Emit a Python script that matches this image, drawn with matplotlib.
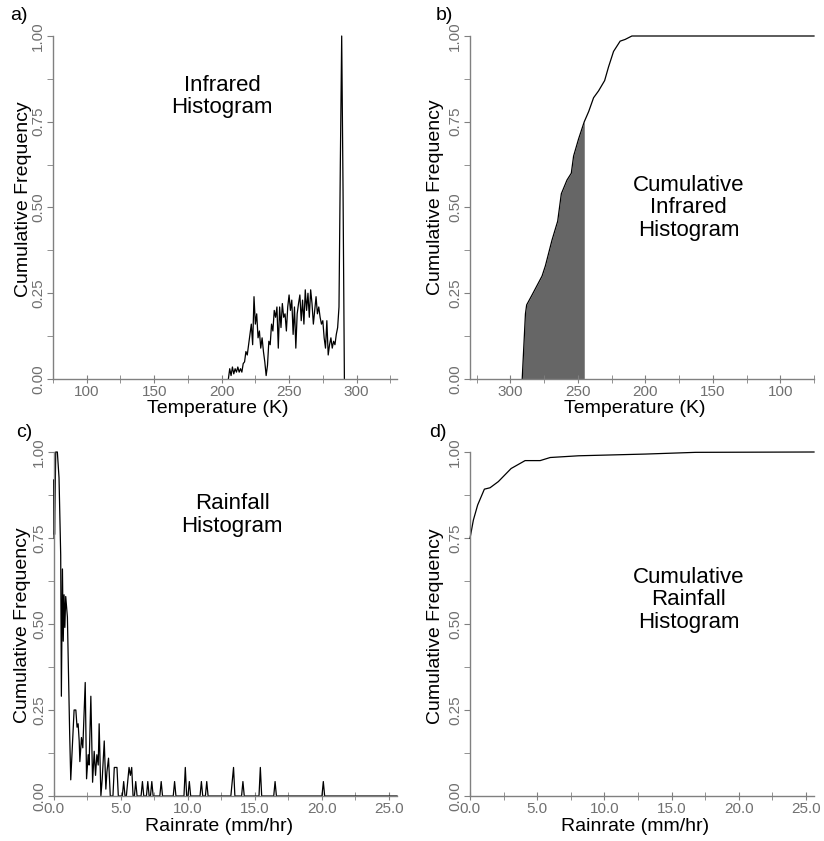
import numpy as np
import matplotlib
matplotlib.use("Agg")
import matplotlib.pyplot as plt
from matplotlib.ticker import MultipleLocator, FormatStrFormatter

plt.rcParams['font.family'] = ['Liberation Sans', 'DejaVu Sans']

# ---------------- data ----------------
# a) Infrared histogram (1 K bins)
ir_temp = np.arange(205, 292)
ir_freq = [0.00, 0.03, 0.01, 0.035, 0.015, 0.03, 0.02, 0.035, 0.02, 0.03,
           0.02, 0.045, 0.05, 0.08, 0.07, 0.10, 0.13, 0.16, 0.10, 0.24,
           0.16, 0.19, 0.12, 0.14, 0.09, 0.12, 0.08, 0.05, 0.01, 0.04,
           0.11, 0.10, 0.16, 0.14, 0.20, 0.18, 0.21, 0.09, 0.21, 0.15,
           0.22, 0.18, 0.19, 0.14, 0.21, 0.245, 0.20, 0.23, 0.13, 0.21,
           0.09, 0.19, 0.22, 0.245, 0.17, 0.23, 0.16, 0.26, 0.20, 0.25,
           0.18, 0.26, 0.22, 0.16, 0.20, 0.24, 0.19, 0.21, 0.18, 0.16,
           0.17, 0.12, 0.09, 0.17, 0.07, 0.10, 0.12, 0.09, 0.11, 0.10,
           0.13, 0.15, 0.21, 0.63, 1.00, 0.55, 0.00]

# b) Cumulative infrared histogram
cum_temp = [291.3, 288.9, 288.0, 284.0, 276.6, 274.1, 269.2, 265.0, 262.3,
            258.1, 254.9, 253.2, 249.5, 245.3, 242.0, 238.4, 234.7, 230.2,
            227.3, 223.6, 218.7, 215.0, 210.0, 75.0]
cum_ir = [0.0, 0.19, 0.216, 0.245, 0.30, 0.33, 0.405, 0.46, 0.54,
          0.58, 0.60, 0.65, 0.70, 0.75, 0.78, 0.82, 0.84, 0.87,
          0.91, 0.955, 0.985, 0.99, 1.0, 1.0]
shade_threshold = 245.3

# c) Rainfall histogram: dense part (low rain rates)
rain_low = [0.0, 0.01, 0.04, 0.13, 0.25, 0.375, 0.5, 0.55, 0.63, 0.69,
            0.75, 0.81, 0.875, 1.0, 1.17, 1.25, 1.5, 1.63, 1.72, 1.8,
            1.88, 1.93, 2.05, 2.15, 2.33, 2.43, 2.55, 2.62, 2.75, 2.88,
            3.0, 3.1, 3.2, 3.3, 3.37, 3.5, 3.6, 3.75, 3.87, 3.95, 4.07]
rain_low_freq = [0.75, 0.92, 0.76, 1.0, 1.0, 0.925, 0.70, 0.29, 0.66, 0.45,
                 0.585, 0.49, 0.58, 0.52, 0.18, 0.047, 0.25, 0.25, 0.20, 0.21,
                 0.16, 0.10, 0.17, 0.14, 0.33, 0.05, 0.12, 0.09, 0.29, 0.04,
                 0.13, 0.06, 0.12, 0.09, 0.21, 0.0, 0.05, 0.16, 0.02, 0.07, 0.11]
# sparse part: isolated bins (0.1 mm/hr) with non-zero frequency
spike_rate = [4.5, 4.6, 4.7, 5.2, 5.5, 5.6, 5.7, 5.8, 6.1, 6.6, 7.0, 7.3,
              8.0, 9.0, 9.8, 10.1, 11.0, 11.4, 13.3, 13.4, 14.1, 15.4,
              16.5, 20.1]
spike_freq = [0.083, 0.083, 0.083, 0.042, 0.042, 0.083, 0.06, 0.083, 0.042,
              0.042, 0.042, 0.042, 0.042, 0.042, 0.083, 0.042, 0.042, 0.042,
              0.042, 0.083, 0.042, 0.083, 0.042, 0.042]
rain_bin = 0.1
rain_max = 25.6

# d) Cumulative rainfall histogram
cum_rain = [0.0, 0.25, 0.57, 1.07, 1.49, 2.11, 3.06, 4.1, 5.22, 5.97,
            8.08, 13.06, 16.8, 25.6]
cum_rain_freq = [0.749, 0.802, 0.846, 0.892, 0.896, 0.914, 0.952, 0.975,
                 0.975, 0.984, 0.989, 0.994, 0.999, 1.0]

y_ticks = [0.0, 0.25, 0.5, 0.75, 1.0]

# ---------------- style ----------------
W, H = 824, 841
AXIS_COLOR = '#808080'
TICK_COLOR = '#707070'
fig = plt.figure(figsize=(W / 100, H / 100), dpi=100)


def px_axes(left, top, right, bottom):
    return fig.add_axes([left / W, 1 - bottom / H, (right - left) / W, (bottom - top) / H])


def style(ax, xlim, xmaj, xmin, xfmt, xlabel, xlab_y, ylab_x, ylab_y):
    for s in ['top', 'right']:
        ax.spines[s].set_visible(False)
    for s in ['left', 'bottom']:
        ax.spines[s].set_color(AXIS_COLOR)
        ax.spines[s].set_linewidth(1.0)
    ax.set_xlim(*xlim)
    ax.set_ylim(0, 1)
    ax.set_yticks(y_ticks)
    ax.yaxis.set_minor_locator(MultipleLocator(0.125))
    ax.yaxis.set_major_formatter(FormatStrFormatter('%.2f'))
    ax.xaxis.set_major_locator(MultipleLocator(xmaj))
    ax.xaxis.set_minor_locator(MultipleLocator(xmin))
    ax.xaxis.set_major_formatter(FormatStrFormatter(xfmt))
    ax.tick_params(axis='x', which='both', direction='inout', length=6,
                   color=AXIS_COLOR, labelcolor=TICK_COLOR, labelsize=11, pad=1)
    ax.tick_params(axis='y', which='both', direction='out', length=4,
                   color=AXIS_COLOR, labelcolor=TICK_COLOR, labelsize=11, pad=1.5,
                   labelrotation=90)
    for lab in ax.get_yticklabels():
        lab.set_va('center')
    ax.set_xlabel(xlabel, fontsize=14, color='black')
    ax.set_ylabel('Cumulative Frequency', fontsize=14, color='black')
    ax.xaxis.set_label_coords(0.48, xlab_y)
    ax.yaxis.set_label_coords(ylab_x, ylab_y)


LINE = dict(color='black', lw=0.9, clip_on=False)
TXT = dict(ha='center', va='center', fontsize=16, linespacing=1.1, multialignment='center')

# a)
ax_a = px_axes(53, 36, 397, 379)
ax_a.plot(ir_temp, ir_freq, **LINE)
style(ax_a, (75, 330), 50, 25, '%d', 'Temperature (K)', -0.06, -0.062, 0.525)
ax_a.text(0.491, 0.824, 'Infrared\nHistogram', transform=ax_a.transAxes, **TXT)

# b)
ax_b = px_axes(470, 36, 814, 379)
ct = np.array(cum_temp)
ci = np.array(cum_ir)
ax_b.fill_between(ct, 0, ci, where=ct >= shade_threshold, color='#666666', lw=0)
ax_b.plot(ct, ci, **LINE)
style(ax_b, (330, 75), 50, 25, '%d', 'Temperature (K)', -0.06, -0.075, 0.531)
ax_b.text(0.636, 0.499, 'Cumulative\nInfrared\nHistogram', transform=ax_b.transAxes, **TXT)

# c)
grid = np.round(np.arange(42, int(rain_max * 10) + 1) * rain_bin, 1)
grid_freq = np.zeros_like(grid)
for r, f in zip(spike_rate, spike_freq):
    grid_freq[np.argmin(np.abs(grid - r))] = f
rain_x = np.concatenate([rain_low, grid])
rain_y = np.concatenate([rain_low_freq, grid_freq])
ax_c = px_axes(54, 452, 397, 796)
ax_c.plot(rain_x, rain_y, **LINE)
style(ax_c, (0, rain_max), 5, 2.5, '%.1f', 'Rainrate (mm/hr)', -0.064, -0.068, 0.497)
ax_c.text(0.52, 0.817, 'Rainfall\nHistogram', transform=ax_c.transAxes, **TXT)

# d)
ax_d = px_axes(470, 452, 814, 796)
ax_d.plot(cum_rain, cum_rain_freq, **LINE)
style(ax_d, (0, rain_max), 5, 2.5, '%.1f', 'Rainrate (mm/hr)', -0.064, -0.075, 0.495)
ax_d.text(0.636, 0.57, 'Cumulative\nRainfall\nHistogram', transform=ax_d.transAxes, **TXT)

for lab, (x, y) in zip(['a)', 'b)', 'c)', 'd)'], [(19, 15), (444, 15), (24, 433), (438, 433)]):
    fig.text(x / W, 1 - y / H, lab, ha='center', va='center', fontsize=14)

fig.savefig('out.png', dpi=100)
